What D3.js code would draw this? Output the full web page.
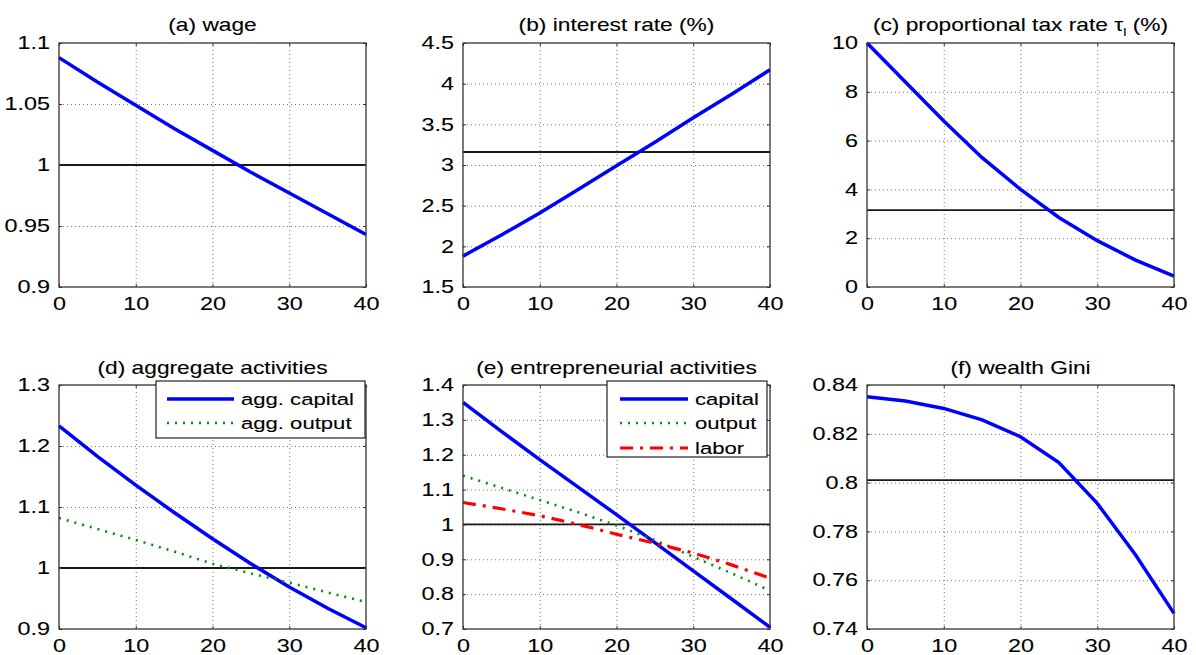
<!DOCTYPE html>
<html>
<head>
<meta charset="utf-8">
<script src="https://cdn.jsdelivr.net/npm/d3@7"></script>
<style>
  body { margin: 0; background: #fff; }
  text { font-family: "Liberation Sans", Arial, sans-serif; fill: #000; stroke: #000; stroke-width: 0.1px; }
</style>
</head>
<body>
<div id="chart"></div>
<script>
// horizon (years) and the simulated paths
const years = [0, 5, 10, 15, 20, 25, 30, 35, 40]
const wage = [1.088, 1.068, 1.049, 1.030, 1.012, 0.994, 0.977, 0.960, 0.943]
const interest_rate = [1.88, 2.14, 2.41, 2.70, 2.99, 3.28, 3.58, 3.87, 4.17]
const tax_rate = [10.0, 8.4, 6.8, 5.3, 4.0, 2.85, 1.9, 1.1, 0.45]
const agg_capital = [1.233, 1.183, 1.136, 1.091, 1.048, 1.007, 0.969, 0.934, 0.902]
const agg_output = [1.082, 1.064, 1.046, 1.027, 1.007, 0.991, 0.976, 0.96, 0.944]
const ent_capital = [1.35, 1.267, 1.186, 1.107, 1.028, 0.948, 0.867, 0.786, 0.705]
const ent_output = [1.14, 1.105, 1.07, 1.035, 0.997, 0.955, 0.907, 0.86, 0.81]
const ent_labor = [1.063, 1.045, 1.025, 1.0, 0.972, 0.946, 0.918, 0.884, 0.846]
const wealth_gini = [0.8352, 0.8334, 0.8304, 0.8257, 0.8188, 0.8082, 0.7915, 0.7703, 0.7464]

// benchmark levels (horizontal black lines)
const ref_levels = [1, 3.16, 3.15, 1, 1, 0.801]

const x_ticks = [0, 10, 20, 30, 40]
const y_ticks = [
    ["0.9", "0.95", "1", "1.05", "1.1"],
    ["1.5", "2", "2.5", "3", "3.5", "4", "4.5"],
    ["0", "2", "4", "6", "8", "10"],
    ["0.9", "1", "1.1", "1.2", "1.3"],
    ["0.7", "0.8", "0.9", "1", "1.1", "1.2", "1.3", "1.4"],
    ["0.74", "0.76", "0.78", "0.8", "0.82", "0.84"]
]
const titles = ["(a) wage", "(b) interest rate (%)", "(c) proportional tax rate ",
    "(d) aggregate activities", "(e) entrepreneurial activities", "(f) wealth Gini"]

const styles = {
    solid: {color: "#0000ff", width: 3.5, dash: null},
    dotted: {color: "#0a8a0a", width: 2.6, dash: "2,6"},
    dashdot: {color: "#ff0000", width: 3.2, dash: "13,7,3,7"}
}

const panels = [
    {series: [{v: wage, s: "solid"}]},
    {series: [{v: interest_rate, s: "solid"}]},
    {series: [{v: tax_rate, s: "solid"}]},
    {series: [{v: agg_capital, s: "solid", name: "agg. capital"},
              {v: agg_output, s: "dotted", name: "agg. output"}],
     legend: {x: 97, y: -4, w: 209, h: 57, sx: 108, ex: 175, tx: 182, rows: [14, 38]}},
    {series: [{v: ent_capital, s: "solid", name: "capital"},
              {v: ent_output, s: "dotted", name: "output"},
              {v: ent_labor, s: "dashdot", name: "labor"}],
     legend: {x: 144, y: -4, w: 160, h: 76, sx: 157, ex: 225, tx: 232, rows: [14, 38, 63]}},
    {series: [{v: wealth_gini, s: "solid"}]}
]

const W = 1196, H = 655
const col_x = [59, 463, 867], row_y = [43, 385]
const pw = 307, ph = 244
const stretch = "scale(1.3,1)"

const svg = d3.select("#chart").append("svg")
    .attr("width", W).attr("height", H)
svg.append("rect").attr("width", W).attr("height", H).attr("fill", "#fff")

function draw_panel(i) {
    const p = panels[i]
    const ticks = y_ticks[i].map(Number)
    const g = svg.append("g")
        .attr("transform", "translate(" + col_x[i % 3] + "," + row_y[Math.floor(i / 3)] + ")")

    const x = d3.scaleLinear().domain([0, 40]).range([0, pw])
    const y = d3.scaleLinear().domain([ticks[0], ticks[ticks.length - 1]]).range([ph, 0])

    // dotted grid at interior ticks
    g.append("g")
        .call(d3.axisLeft(y).tickValues(ticks.slice(1, -1)).tickSizeInner(-pw).tickSizeOuter(0).tickFormat(""))
        .call(a => a.select(".domain").remove())
        .selectAll("line").attr("stroke", "#777").attr("stroke-width", 1).attr("stroke-dasharray", "1,3")
    g.append("g")
        .attr("transform", "translate(0," + ph + ")")
        .call(d3.axisBottom(x).tickValues(x_ticks.slice(1, -1)).tickSizeInner(-ph).tickSizeOuter(0).tickFormat(""))
        .call(a => a.select(".domain").remove())
        .selectAll("line").attr("stroke", "#777").attr("stroke-width", 1).attr("stroke-dasharray", "1,3")

    // benchmark line
    g.append("line")
        .attr("x1", 0).attr("x2", pw)
        .attr("y1", y(ref_levels[i])).attr("y2", y(ref_levels[i]))
        .attr("stroke", "#1a1a1a").attr("stroke-width", 1.8)

    p.series.forEach(function (s) {
        const st = styles[s.s]
        g.append("path")
            .datum(s.v)
            .attr("fill", "none")
            .attr("stroke", st.color)
            .attr("stroke-width", st.width)
            .attr("stroke-dasharray", st.dash)
            .attr("d", d3.line()
                .x((d, k) => x(years[k]))
                .y(d => y(d)))
    })

    // tick labels
    g.append("g")
        .call(d3.axisLeft(y).tickValues(ticks).tickSize(0).tickPadding(7).tickFormat((d, k) => y_ticks[i][k]))
        .call(a => a.select(".domain").remove())
        .selectAll("text")
        .attr("transform", stretch)
        .style("font-size", "18px")
    g.append("g")
        .attr("transform", "translate(0," + ph + ")")
        .call(d3.axisBottom(x).tickValues(x_ticks).tickSize(0).tickPadding(10))
        .call(a => a.select(".domain").remove())
        .selectAll("text")
        .attr("transform", stretch)
        .style("font-size", "18px")

    // small inward tick marks on all sides
    const inner = [
        [d3.axisLeft(y).tickValues(ticks), 0, 0],
        [d3.axisRight(y).tickValues(ticks), pw, 0],
        [d3.axisBottom(x).tickValues(x_ticks), 0, ph],
        [d3.axisTop(x).tickValues(x_ticks), 0, 0]
    ]
    inner.forEach(function (a) {
        g.append("g")
            .attr("transform", "translate(" + a[1] + "," + a[2] + ")")
            .call(a[0].tickSizeInner(-3).tickSizeOuter(0).tickFormat(""))
            .call(s => s.select(".domain").remove())
            .selectAll("line").attr("stroke", "#333")
    })

    g.append("rect")
        .attr("width", pw).attr("height", ph)
        .attr("fill", "none").attr("stroke", "#333").attr("stroke-width", 1.3)

    // title
    const t = g.append("text")
        .attr("transform", "translate(" + (pw / 2) + "," + (i < 3 ? -12 : -11) + ") " + stretch)
        .attr("text-anchor", "middle")
        .style("font-size", "17.5px")
        .text(titles[i])
    if (i === 2) {
        t.append("tspan").text("\u03c4")
        t.append("tspan").attr("dy", 5).style("font-size", "11px").text("l")
        t.append("tspan").attr("dy", -5).text(" (%)")
    }

    if (p.legend) {
        const L = p.legend
        g.append("rect")
            .attr("x", L.x).attr("y", L.y).attr("width", L.w).attr("height", L.h)
            .attr("fill", "#fff").attr("stroke", "#222").attr("stroke-width", 1.2)
        p.series.forEach(function (s, k) {
            const st = styles[s.s]
            g.append("line")
                .attr("x1", L.sx).attr("x2", L.ex)
                .attr("y1", L.rows[k]).attr("y2", L.rows[k])
                .attr("stroke", st.color)
                .attr("stroke-width", st.width)
                .attr("stroke-dasharray", st.dash)
            g.append("text")
                .attr("transform", "translate(" + L.tx + "," + (L.rows[k] + 6) + ") " + stretch)
                .style("font-size", "17px")
                .text(s.name)
        })
    }
}

for (let i = 0; i < panels.length; i++) {
    draw_panel(i)
}
</script>
</body>
</html>
